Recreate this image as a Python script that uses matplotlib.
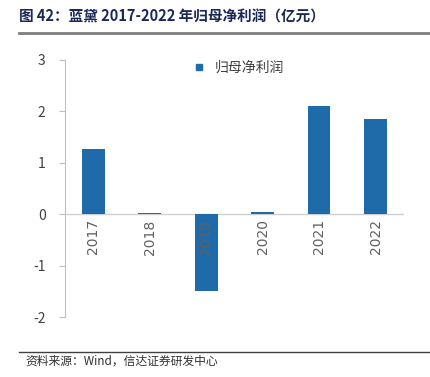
import matplotlib
matplotlib.use("Agg")
import matplotlib.pyplot as plt
from matplotlib.lines import Line2D

plt.rcParams['font.family'] = ['Noto Sans CJK SC', 'DejaVu Sans']

categories = ["2017", "2018", "2019", "2020", "2021", "2022"]
values = [1.26, 0.03, -1.50, 0.05, 2.10, 1.86]
yticks = [-2, -1, 0, 1, 2, 3]
series_name = "归母净利润"

fig = plt.figure(figsize=(4.31, 3.77), dpi=100)
ax = fig.add_axes([0.151, 0.159, 0.786, 0.682])

x = list(range(len(categories)))
ax.bar(x, values, width=0.4, color="#1f6aa8", zorder=2, label=series_name)
ax.set_xlim(-0.5, len(categories) - 0.5)
ax.set_ylim(-2, 3)
ax.set_yticks(yticks)
ax.set_yticklabels([str(t) for t in yticks], fontsize=10, color="#404040")
ax.tick_params(axis='y', length=4, color="#bfbfbf", pad=10)
ax.set_xticks([])
for s in ['top', 'right', 'bottom']:
    ax.spines[s].set_visible(False)
ax.spines['left'].set_color("#bfbfbf")
ax.axhline(0, color="#d0d0d0", lw=1, zorder=1)
for xi, c in zip(x, categories):
    ax.text(xi, -0.1, c, rotation=90, ha='center', va='top', fontsize=10,
            color="#606060", zorder=3, family=['DejaVu Sans'])

handle = Line2D([], [], marker='s', linestyle='none', color="#1f6aa8", markersize=5)
ax.legend([handle], [series_name], loc='upper center', bbox_to_anchor=(0.5, 1.045),
          frameon=False, fontsize=10, handletextpad=0.1, labelcolor="#404040")

fig.text(0.045, 0.955, "图 42：蓝黛 2017-2022 年归母净利润（亿元）", fontsize=10.5,
         fontweight='bold', color="#1a2858", va='center', ha='left')
fig.add_artist(Line2D([0.045, 1.0], [0.912, 0.912], color="#7f7f7f", lw=2))
fig.add_artist(Line2D([0.045, 1.0], [0.066, 0.066], color="#404040", lw=1))
fig.text(0.06, 0.042, "资料来源：Wind，信达证券研发中心", fontsize=8.5, style='italic',
         color="#303030", va='center', ha='left')

fig.savefig("out.png", dpi=100)
